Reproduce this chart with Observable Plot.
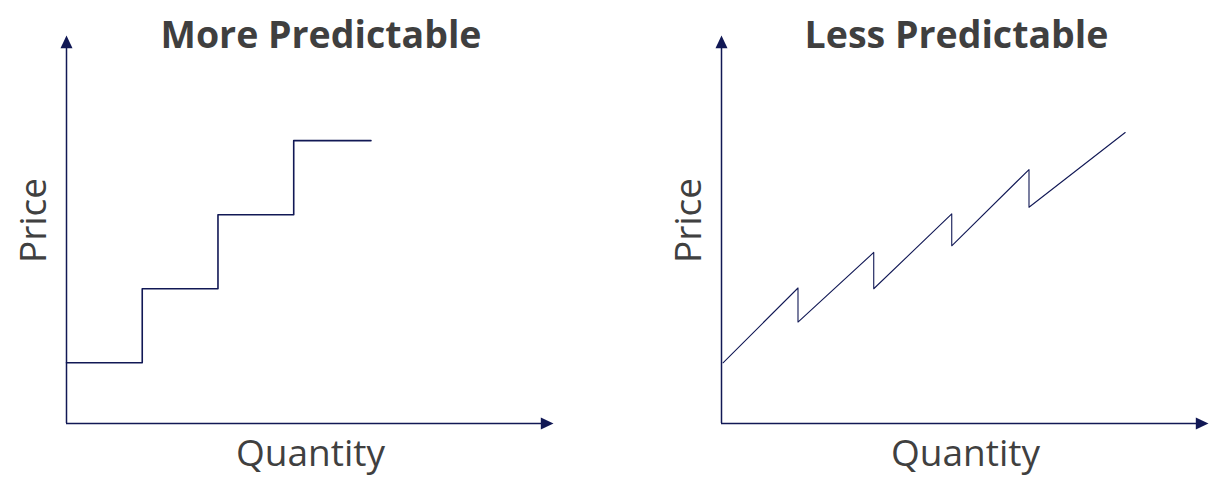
<!DOCTYPE html>
<html>
<head>
<meta charset="utf-8">
<script src="https://cdn.jsdelivr.net/npm/d3@7"></script>
<script src="https://cdn.jsdelivr.net/npm/@observablehq/plot@0.6"></script>
<style>
  html, body { margin: 0; padding: 0; background: #fff; overflow: hidden; }
  #wrap { position: relative; width: 1221px; height: 499px; }
  .panel { position: absolute; top: 0; }
</style>
</head>
<body>
<div id="wrap">
  <div class="panel" id="left" style="left:0px"></div>
  <div class="panel" id="right" style="left:655px"></div>
</div>
<script>
// ---- data ----
const titles = ["More Predictable", "Less Predictable"];
const xLabel = "Quantity";
const yLabel = "Price";

// Left: step supply (more predictable)
const stepQuantity = [0, 1, 2, 3, 4.02];
const stepPrice    = [0.82, 1.82, 2.82, 3.82, 3.82];

// Right: saw-tooth (less predictable)
const sawQuantity = [0.02, 1.01, 1.01, 2.01, 2.01, 3.04, 3.04, 4.06, 4.06, 5.33];
const sawPrice    = [0.82, 1.83, 1.37, 2.31, 1.82, 2.83, 2.40, 3.43, 2.92, 3.93];

// axis extents (domain)
const xMax = 6.43;
const yMax = 5.24;

const ink = "#111855";
const textColor = "#404040";
const font = "'Open Sans', sans-serif";

const arrowHead = {
  draw(context) {
    context.moveTo(0, 0);
    context.lineTo(6, 12.7);
    context.lineTo(-6, 12.7);
    context.closePath();
  }
};

function panel(title, quantity, price, curve, strokeWidth, titleDx) {
  const data = quantity.map((q, i) => ({q, p: price[i]}));
  return Plot.plot({
    width: 566,
    height: 499,
    marginLeft: 66,
    marginRight: 13,
    marginTop: 35,
    marginBottom: 76,
    style: {fontFamily: font, background: "transparent", overflow: "visible"},
    x: {domain: [0, xMax], axis: null},
    y: {domain: [0, yMax], axis: null},
    marks: [
      Plot.ruleX([0], {y1: 0, y2: yMax * 0.985, stroke: ink, strokeWidth: 1.5}),
      Plot.ruleY([0], {x1: 0, x2: xMax * 0.985, stroke: ink, strokeWidth: 1.5}),
      Plot.dot([{q: 0, p: yMax}], {x: "q", y: "p", symbol: arrowHead, fill: ink, stroke: "none"}),
      Plot.dot([{q: xMax, p: 0}], {x: "q", y: "p", symbol: arrowHead, fill: ink, stroke: "none", rotate: 90}),
      Plot.line(data, {x: "q", y: "p", curve, stroke: ink, strokeWidth}),
      Plot.text([title], {frameAnchor: "top", textAnchor: "middle", lineAnchor: "middle", dx: titleDx, dy: 0,
        fontSize: 37.5, fontWeight: "bold", fill: "#3f3f3f", fontFamily: font}),
      Plot.text([xLabel], {frameAnchor: "bottom", textAnchor: "middle", lineAnchor: "middle", dx: 0.5, dy: 31,
        fontSize: 37, fill: textColor, fontFamily: font}),
      Plot.text([yLabel], {frameAnchor: "left", textAnchor: "middle", lineAnchor: "middle", rotate: -90, dx: -32, dy: -9,
        fontSize: 37, fill: textColor, fontFamily: font})
    ]
  });
}

document.getElementById("left").append(panel(titles[0], stepQuantity, stepPrice, "step-after", 1.6, 11));
document.getElementById("right").append(panel(titles[1], sawQuantity, sawPrice, "linear", 1.1, -8.5));
</script>
</body>
</html>
